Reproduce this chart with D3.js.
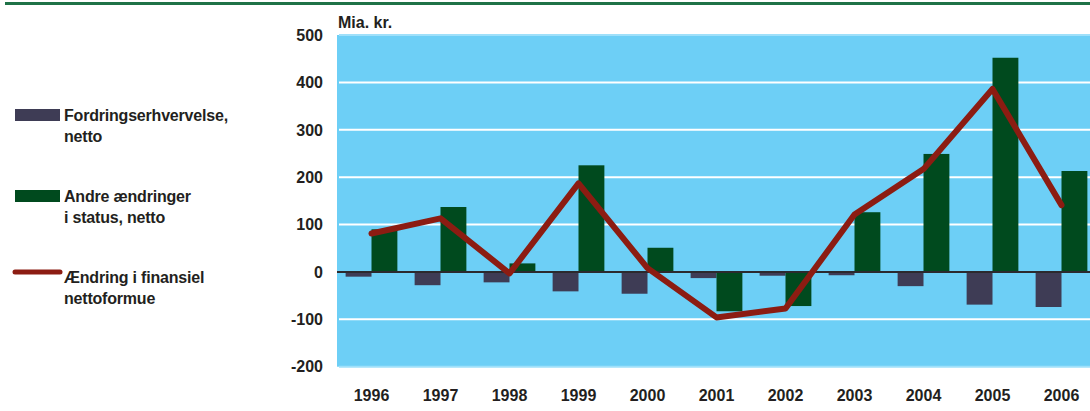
<!DOCTYPE html>
<html>
<head>
<meta charset="utf-8">
<script src="https://cdn.jsdelivr.net/npm/d3@7"></script>
<style>
  body { margin: 0; background: #fff; }
  svg { display: block; font-family: 'Liberation Sans', Arial, sans-serif; font-weight: bold; }
</style>
</head>
<body>
<svg id="chart" width="1090" height="411"></svg>
<script>
// Data
const years = ['1996', '1997', '1998', '1999', '2000', '2001', '2002', '2003', '2004', '2005', '2006'];
const fordring = [-10, -28, -22, -41, -46, -13, -8, -7, -30, -69, -74]; // Fordringserhvervelse, netto
const andre = [90, 137, 18, 225, 51, -83, -72, 126, 249, 452, 213]; // Andre ændringer i status, netto
const aendring = [81, 113, -3, 187, 8, -96, -77, 121, 217, 386, 141]; // Ændring i finansiel nettoformue
const yTicks = [500, 400, 300, 200, 100, 0, -100, -200];

const colors = { fordring: '#3e3c55', andre: '#004a1e', line: '#8c1c12', bg: '#6dcff6', ink: '#231f20' };

const svg = d3.select('#chart');

// Top rule
svg.append('rect')
  .attr('x', 5).attr('y', 2).attr('width', 1085).attr('height', 3)
  .attr('fill', '#1f7247');

const x = d3.scaleBand().domain(years).range([337, 1096]).padding(0);
const y = d3.scaleLinear().domain([-200, 500]).range([366.7, 35]);
const bw = x.bandwidth() * 0.375;
const cx = (d) => x(d) + x.bandwidth() / 2;

// Plot background
svg.append('rect')
  .attr('x', 337).attr('y', y(500))
  .attr('width', 1096 - 337).attr('height', y(-200) - y(500))
  .attr('fill', colors.bg);

// Grid
svg.append('g')
  .selectAll('line')
  .data(yTicks.filter((d) => d !== 0))
  .join('line')
  .attr('x1', 339).attr('x2', 1096)
  .attr('y1', (d) => y(d)).attr('y2', (d) => y(d))
  .attr('stroke', (d) => (d === 500 || d === -200 ? '#9fe0fa' : '#fff'))
  .attr('stroke-width', 2);

// Bars
const bars = svg.append('g');
bars.selectAll('.f')
  .data(years)
  .join('rect')
  .attr('class', 'f')
  .attr('x', (d) => cx(d) - bw)
  .attr('y', (d, i) => y(Math.max(0, fordring[i])))
  .attr('width', bw)
  .attr('height', (d, i) => Math.abs(y(fordring[i]) - y(0)))
  .attr('fill', colors.fordring);

bars.selectAll('.a')
  .data(years)
  .join('rect')
  .attr('class', 'a')
  .attr('x', (d) => cx(d))
  .attr('y', (d, i) => y(Math.max(0, andre[i])))
  .attr('width', bw)
  .attr('height', (d, i) => Math.abs(y(andre[i]) - y(0)))
  .attr('fill', colors.andre);

// Zero line
svg.append('line')
  .attr('x1', 337).attr('x2', 1096)
  .attr('y1', y(0)).attr('y2', y(0))
  .attr('stroke', '#2b2a2e')
  .attr('stroke-width', 2);

// Line series
const line = d3.line()
  .x((d, i) => cx(years[i]))
  .y((d) => y(d));

svg.append('path')
  .datum(aendring)
  .attr('d', line)
  .attr('fill', 'none')
  .attr('stroke', colors.line)
  .attr('stroke-width', 6)
  .attr('stroke-linejoin', 'round')
  .attr('stroke-linecap', 'round');

// Y axis labels
svg.append('g')
  .selectAll('text')
  .data(yTicks)
  .join('text')
  .attr('x', 323)
  .attr('y', (d) => y(d))
  .attr('dy', '0.36em')
  .attr('text-anchor', 'end')
  .attr('font-size', 16)
  .attr('fill', colors.ink)
  .text((d) => d);

// X axis labels
svg.append('g')
  .selectAll('text')
  .data(years)
  .join('text')
  .attr('x', (d) => cx(d))
  .attr('y', 401)
  .attr('text-anchor', 'middle')
  .attr('font-size', 16)
  .attr('fill', colors.ink)
  .text((d) => d);

// Unit
svg.append('text')
  .attr('x', 338).attr('y', 28)
  .attr('font-size', 16)
  .attr('fill', colors.ink)
  .text('Mia. kr.');

// Legend
const legend = [
  { type: 'rect', color: colors.fordring, y: 109, lines: ['Fordringserhvervelse,', 'netto'], base: 120.5 },
  { type: 'rect', color: colors.andre, y: 190, lines: ['Andre ændringer', 'i status, netto'], base: 201.5 },
  { type: 'line', color: colors.line, y: 272, lines: ['Ændring i finansiel', 'nettoformue'], base: 282.5 },
];

const lg = svg.append('g');
legend.forEach((item) => {
  if (item.type === 'rect') {
    lg.append('rect')
      .attr('x', 15).attr('y', item.y).attr('width', 45).attr('height', 12)
      .attr('fill', item.color);
  } else {
    lg.append('line')
      .attr('x1', 15).attr('x2', 60)
      .attr('y1', item.y).attr('y2', item.y)
      .attr('stroke', item.color)
      .attr('stroke-width', 5)
      .attr('stroke-linecap', 'round');
  }
  lg.append('text')
    .attr('x', 64)
    .attr('y', item.base)
    .attr('font-size', 16)
    .attr('letter-spacing', -0.2)
    .attr('fill', colors.ink)
    .selectAll('tspan')
    .data(item.lines)
    .join('tspan')
    .attr('x', 64)
    .attr('dy', (d, i) => (i === 0 ? 0 : 21.5))
    .text((d) => d);
});
</script>
</body>
</html>
